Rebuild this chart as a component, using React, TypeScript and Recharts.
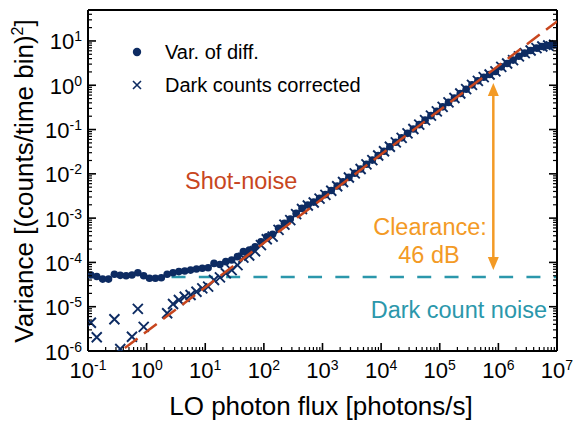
import React from "react";
import { ComposedChart, Scatter, XAxis, YAxis, ReferenceLine, Legend } from "recharts";

const FONT = '"Liberation Sans", Arial, Helvetica, sans-serif';
const NAVY = "#0d2b62";
const RUST = "#c8461e";
const ORANGE = "#f39a25";
const TEAL = "#2b97ab";

// LO photon flux [photons/s], one sample every 0.1 decade
const flux = [
  0.112, 0.141, 0.178, 0.224, 0.282, 0.355, 0.447, 0.562, 0.708, 0.891,
  1.12, 1.41, 1.78, 2.24, 2.82, 3.55, 4.47, 5.62, 7.08, 8.91,
  11.2, 14.1, 17.8, 22.4, 28.2, 35.5, 44.7, 56.2, 70.8, 89.1,
  112, 141, 178, 224, 282, 355, 447, 562, 708, 891,
  1120, 1410, 1780, 2240, 2820, 3550, 4470, 5620, 7080, 8910,
  1.12e4, 1.41e4, 1.78e4, 2.24e4, 2.82e4, 3.55e4, 4.47e4, 5.62e4, 7.08e4, 8.91e4,
  1.12e5, 1.41e5, 1.78e5, 2.24e5, 2.82e5, 3.55e5, 4.47e5, 5.62e5, 7.08e5, 8.91e5,
  1.12e6, 1.41e6, 1.78e6, 2.24e6, 2.82e6, 3.55e6, 4.47e6, 5.62e6, 7.08e6, 8.91e6,
];

// Var. of diff. [(counts/time bin)^2]
const varOfDiff = [
  5.2e-5, 4.8e-5, 4.2e-5, 4.2e-5, 5.4e-5, 5.1e-5, 5.0e-5, 5.2e-5, 5.85e-5, 5.0e-5,
  4.4e-5, 4.4e-5, 4.5e-5, 5.4e-5, 5.85e-5, 6.2e-5, 6.4e-5, 6.7e-5, 7.1e-5, 7.4e-5,
  7.6e-5, 9.5e-5, 9.0e-5, 1.04e-4, 1.13e-4, 1.35e-4, 1.75e-4, 1.9e-4, 2.26e-4, 2.93e-4,
  3.8e-4, 4.3e-4, 5.9e-4, 7.6e-4, 9.5e-4, 1.28e-3, 1.66e-3, 1.98e-3, 2.3e-3, 2.8e-3,
  3.4e-3, 4.2e-3, 5.3e-3, 6.6e-3, 8.3e-3, 1.03e-2, 1.29e-2, 1.64e-2, 2.04e-2, 2.6e-2,
  3.24e-2, 4.1e-2, 5.15e-2, 6.5e-2, 8.2e-2, 0.103, 0.129, 0.163, 0.206, 0.257,
  0.325, 0.41, 0.515, 0.65, 0.815, 1.02, 1.26, 1.52, 1.75, 2.05,
  2.6, 3.1, 3.7, 4.5, 5.3, 6.1, 6.9, 7.5, 7.9, 8.2,
];

// Dark counts corrected (null = negative, not shown on log axis)
const darkCorrected = [
  4.35e-6, 2.04e-6, null, null, 5.2e-6, 1.11e-6, null, 2.1e-6, 8.9e-6, 3.5e-6,
  null, null, null, 7.1e-6, 1.15e-5, 1.42e-5, 1.68e-5, 1.84e-5, 2.18e-5, 2.6e-5,
  2.83e-5, 4.0e-5, 4.6e-5, 5.7e-5, 6.7e-5, 8.7e-5, 1.28e-4, 1.43e-4, 1.79e-4, 2.46e-4,
  3.33e-4, 3.83e-4, 5.43e-4, 7.13e-4, 9.03e-4, 1.23e-3, 1.61e-3, 1.93e-3, 2.25e-3, 2.75e-3,
  3.35e-3, 4.15e-3, 5.25e-3, 6.55e-3, 8.25e-3, 1.025e-2, 1.285e-2, 1.635e-2, 2.035e-2, 2.595e-2,
  3.235e-2, 4.095e-2, 5.145e-2, 6.495e-2, 8.195e-2, 0.103, 0.129, 0.163, 0.206, 0.257,
  0.325, 0.41, 0.515, 0.65, 0.815, 1.02, 1.26, 1.52, 1.75, 2.05,
  2.6, 3.1, 3.7, 4.5, 5.3, 6.1, 6.9, 7.5, 7.9, 8.2,
];

// shot-noise fit (slope 1 on log-log)
const shotFlux = [0.2, 2e7];
const shotVar = [5.5e-7, 55];

const darkLevel = 4.7e-5;
const darkFrom = 2.66;
const darkTo = 1e7;

const clearanceFlux = 8.2e5;
const clearanceTop = 1.12;
const clearanceBottom = 6.7e-5;

const xMajors = [0.1, 1, 10, 100, 1e3, 1e4, 1e5, 1e6, 1e7];
const yMajors = [1e-6, 1e-5, 1e-4, 1e-3, 1e-2, 1e-1, 1, 10];
const xMax = 1e7;
const yMax = 50;

const legendItems = [
  { label: "Var. of diff.", kind: "dot" },
  { label: "Dark counts corrected", kind: "cross" },
];

const diffData = flux.map((x, i) => ({ x, y: varOfDiff[i] }));
const correctedData = flux
  .map((x, i) => ({ x, y: darkCorrected[i] }))
  .filter((d) => d.y !== null);
const shotData = shotFlux.map((x, i) => ({ x, y: shotVar[i] }));

function withMinors(majors: number[], max: number) {
  const out: number[] = [];
  majors.forEach((m) => {
    for (let k = 1; k <= 9; k++) {
      const v = m * k;
      if (v <= max * 1.0001) out.push(v);
    }
  });
  return out;
}
const xTicks = withMinors(xMajors, xMax);
const yTicks = withMinors(yMajors, yMax);

function isMajor(v: number) {
  const l = Math.log10(v);
  return Math.abs(l - Math.round(l)) < 1e-6;
}
const expOf = (v: number) => String(Math.round(Math.log10(v)));

const tickStroke = (major: boolean) => ({ stroke: "#000", strokeWidth: major ? 1.6 : 1.2 });

const BottomTick = ({ x, y, payload }: any) => {
  const v = payload.value;
  const major = isMajor(v);
  return (
    <g>
      <line x1={x} x2={x} y1={y} y2={y - (major ? 8 : 4)} {...tickStroke(major)} />
      {major && (
        <text x={x} y={y + 27} textAnchor="middle" fontFamily={FONT} fontSize={22} fill="#000">
          10<tspan dy={-8} fontSize={14}>{expOf(v)}</tspan>
        </text>
      )}
    </g>
  );
};

const TopTick = ({ x, y, payload }: any) => {
  const major = isMajor(payload.value);
  return <line x1={x} x2={x} y1={y} y2={y + (major ? 8 : 4)} {...tickStroke(major)} />;
};

const LeftTick = ({ x, y, payload }: any) => {
  const v = payload.value;
  const major = isMajor(v);
  return (
    <g>
      <line x1={x} x2={x + (major ? 8 : 4)} y1={y} y2={y} {...tickStroke(major)} />
      {major && (
        <text x={x - 6} y={y + 8.5} textAnchor="end" fontFamily={FONT} fontSize={22} fill="#000">
          10<tspan dy={-8} fontSize={14}>{expOf(v)}</tspan>
        </text>
      )}
    </g>
  );
};

const RightTick = ({ x, y, payload }: any) => {
  const major = isMajor(payload.value);
  return <line x1={x} x2={x - (major ? 8 : 4)} y1={y} y2={y} {...tickStroke(major)} />;
};

const Dot = ({ cx, cy }: any) => (cx == null ? null : <circle cx={cx} cy={cy} r={3.8} fill={NAVY} />);

const Cross = ({ cx, cy }: any) =>
  cx == null ? null : (
    <path
      d={`M${cx - 5},${cy - 5}L${cx + 5},${cy + 5}M${cx - 5},${cy + 5}L${cx + 5},${cy - 5}`}
      stroke={NAVY}
      strokeWidth={1.9}
      fill="none"
    />
  );

const NoMark = () => <g />;

const Arrow = (p: any) => {
  const { x1, y1, y2 } = p;
  const top = Math.min(y1, y2);
  const bot = Math.max(y1, y2);
  return (
    <g>
      <line x1={x1} x2={x1} y1={top + 10} y2={bot - 10} stroke={ORANGE} strokeWidth={2.5} />
      <polygon points={`${x1},${top} ${x1 - 5.5},${top + 13} ${x1 + 5.5},${top + 13}`} fill={ORANGE} />
      <polygon points={`${x1},${bot} ${x1 - 5.5},${bot - 13} ${x1 + 5.5},${bot - 13}`} fill={ORANGE} />
    </g>
  );
};

const LegendBox = () => (
  <div style={{ fontFamily: FONT, fontSize: 20, color: "#000" }}>
    {legendItems.map((it) => (
      <div key={it.label} style={{ display: "flex", alignItems: "center", height: 33, whiteSpace: "nowrap" }}>
        <svg width={20} height={20}>
          {it.kind === "dot" ? (
            <circle cx={10} cy={10} r={4.2} fill={NAVY} />
          ) : (
            <path d="M6,6L14,14M6,14L14,6" stroke={NAVY} strokeWidth={1.6} />
          )}
        </svg>
        <span style={{ marginLeft: 18 }}>{it.label}</span>
      </div>
    ))}
  </div>
);

const axisLine = { stroke: "#000", strokeWidth: 2 };

export default function App() {
  return (
    <div style={{ position: "absolute", left: 0, top: 0, width: 574, height: 423, background: "#fff" }}>
      <ComposedChart width={574} height={423} margin={{ top: 8, right: 15, bottom: 10, left: 8 }}>
        <XAxis
          xAxisId="b"
          dataKey="x"
          type="number"
          scale="log"
          domain={[0.1, xMax]}
          allowDataOverflow
          ticks={xTicks}
          interval={0}
          tick={(p: any) => <BottomTick {...p} />}
          tickSize={0}
          tickMargin={0}
          tickLine={false}
          axisLine={axisLine}
          height={62}
          orientation="bottom"
        />
        <XAxis
          xAxisId="t"
          type="number"
          scale="log"
          domain={[0.1, xMax]}
          allowDataOverflow
          ticks={xTicks}
          interval={0}
          tick={(p: any) => <TopTick {...p} />}
          tickSize={0}
          tickMargin={0}
          tickLine={false}
          axisLine={axisLine}
          height={2}
          orientation="top"
        />
        <YAxis
          yAxisId="l"
          dataKey="y"
          type="number"
          scale="log"
          domain={[1e-6, yMax]}
          allowDataOverflow
          ticks={yTicks}
          interval={0}
          tick={(p: any) => <LeftTick {...p} />}
          tickSize={0}
          tickMargin={0}
          tickLine={false}
          axisLine={axisLine}
          width={80}
          orientation="left"
        />
        <YAxis
          yAxisId="r"
          type="number"
          scale="log"
          domain={[1e-6, yMax]}
          allowDataOverflow
          ticks={yTicks}
          interval={0}
          tick={(p: any) => <RightTick {...p} />}
          tickSize={0}
          tickMargin={0}
          tickLine={false}
          axisLine={axisLine}
          width={2}
          orientation="right"
        />
        <ReferenceLine
          xAxisId="b"
          yAxisId="l"
          segment={[
            { x: darkFrom, y: darkLevel },
            { x: darkTo, y: darkLevel },
          ]}
          stroke={TEAL}
          strokeWidth={2.5}
          strokeDasharray="14 13.3"
          ifOverflow="hidden"
        />
        <Scatter
          name="Dark counts corrected"
          data={correctedData}
          xAxisId="b"
          yAxisId="l"
          shape={(p: any) => <Cross {...p} />}
          isAnimationActive={false}
        />
        <Scatter
          name="Var. of diff."
          data={diffData}
          xAxisId="b"
          yAxisId="l"
          shape={(p: any) => <Dot {...p} />}
          isAnimationActive={false}
        />
        <Scatter
          name="Shot-noise"
          data={shotData}
          xAxisId="b"
          yAxisId="l"
          line={{ stroke: RUST, strokeWidth: 2.5, strokeDasharray: "16 8" }}
          shape={() => <NoMark />}
          isAnimationActive={false}
        />
        <ReferenceLine
          xAxisId="b"
          yAxisId="l"
          segment={[
            { x: clearanceFlux, y: clearanceTop },
            { x: clearanceFlux, y: clearanceBottom },
          ]}
          ifOverflow="visible"
          shape={(p: any) => <Arrow {...p} />}
        />
        <Legend
          layout="horizontal"
          verticalAlign="middle"
          align="center"
          content={() => <LegendBox />}
          wrapperStyle={{ left: 127, top: 35.5, width: 320, height: 66 }}
        />
      </ComposedChart>
      <svg
        width={574}
        height={423}
        style={{ position: "absolute", left: 0, top: 0, pointerEvents: "none" }}
        fontFamily={FONT}
      >
        <text x={185} y={189} fontSize={23.5} fill={RUST}>Shot-noise</text>
        <text x={430} y={235} fontSize={23.5} fill={ORANGE} textAnchor="middle">Clearance:</text>
        <text x={429} y={263} fontSize={23.5} fill={ORANGE} textAnchor="middle">46 dB</text>
        <text x={547} y={318} fontSize={23.5} fill={TEAL} textAnchor="end">Dark count noise</text>
        <text x={321} y={415} fontSize={26} fill="#000" textAnchor="middle">LO photon flux [photons/s]</text>
        <text x={33} y={181} fontSize={26} fill="#000" textAnchor="middle" transform="rotate(-90 33 181)">
          Variance [(counts/time bin)<tspan dy={-10} fontSize={16}>2</tspan><tspan dy={10}>]</tspan>
        </text>
      </svg>
    </div>
  );
}
